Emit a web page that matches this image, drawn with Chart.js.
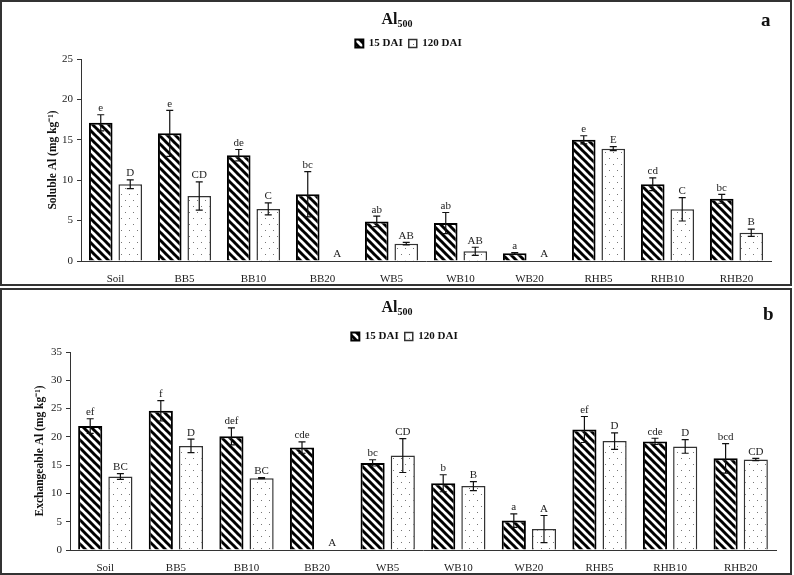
<!DOCTYPE html>
<html>
<head>
<meta charset="utf-8">
<script src="https://cdn.jsdelivr.net/npm/chart.js@4"></script>
<style>
  html, body { margin: 0; padding: 0; background: #fff; }
  body { width: 794px; height: 575px; position: relative; overflow: hidden; font-family: 'Liberation Serif', serif; }
  .wrap { position: absolute; left: 0; width: 794px; }
  .frame { position: absolute; left: 0; width: 792px; border: 2px solid #333; box-sizing: border-box; pointer-events: none; }
  .ttl { position: absolute; left: 0; width: 794px; text-align: center; font-weight: bold; font-size: 16px; color: #111; }
  .ttl sub { font-size: 10px; vertical-align: -3px; }
  .tag { position: absolute; font-weight: bold; font-size: 19px; color: #111; }
</style>
</head>
<body>
<div class="wrap" style="top:0;height:286px"><canvas id="solubleChart"></canvas></div>
<div class="wrap" style="top:288px;height:287px"><canvas id="exchChart"></canvas></div>
<div class="frame" style="top:0;height:286px"></div>
<div class="frame" style="top:288px;height:287px"></div>
<div class="ttl" style="top:10px">Al<sub>500</sub></div>
<div class="ttl" style="top:298px">Al<sub>500</sub></div>
<div class="tag" style="left:761px;top:9px">a</div>
<div class="tag" style="left:763px;top:303px">b</div>

<script>
// ---------- data ----------
const categories = ['Soil', 'BB5', 'BB10', 'BB20', 'WB5', 'WB10', 'WB20', 'RHB5', 'RHB10', 'RHB20'];
const seriesLabels = ['15 DAI', '120 DAI'];

// panel a - soluble Al
const soluble15 = [17.1, 15.8, 13.1, 8.25, 4.9, 4.7, 0.95, 15.0, 9.5, 7.7];
const soluble15Err = [1.0, 2.85, 0.7, 2.8, 0.65, 1.3, 0.1, 0.5, 0.8, 0.55];
const soluble15Letters = ['e', 'e', 'de', 'bc', 'ab', 'ab', 'a', 'e', 'cd', 'bc'];
const soluble120 = [9.5, 8.05, 6.45, 0, 2.15, 1.2, 0, 13.9, 6.4, 3.5];
const soluble120Err = [0.55, 1.75, 0.75, 0, 0.15, 0.5, 0, 0.25, 1.45, 0.45];
const soluble120Letters = ['D', 'CD', 'C', 'A', 'AB', 'AB', 'A', 'E', 'C', 'B'];
const solubleTicks = [0, 5, 10, 15, 20, 25];

// panel b - exchangeable Al
const exch15 = [21.9, 24.6, 20.1, 18.1, 15.4, 11.8, 5.2, 21.3, 19.2, 16.2];
const exch15Err = [1.3, 1.8, 1.5, 1.0, 0.55, 1.5, 1.2, 2.3, 0.55, 2.6];
const exch15Letters = ['ef', 'f', 'def', 'cde', 'bc', 'b', 'a', 'ef', 'cde', 'bcd'];
const exch120 = [13.0, 18.4, 12.7, 0, 16.7, 11.3, 3.7, 19.25, 18.3, 16.0];
const exch120Err = [0.5, 1.2, 0.1, 0, 3.0, 0.8, 2.4, 1.45, 1.2, 0.2];
const exch120Letters = ['BC', 'D', 'BC', 'A', 'CD', 'B', 'A', 'D', 'D', 'CD'];
const exchTicks = [0, 5, 10, 15, 20, 25, 30, 35];

// ---------- fills ----------
function stripeFill() {
  const p = 8;
  const c = document.createElement('canvas');
  c.width = p; c.height = p;
  const g = c.getContext('2d');
  g.fillStyle = '#fff';
  g.fillRect(0, 0, p, p);
  g.strokeStyle = '#000';
  g.lineWidth = 3;
  for (let k = -1; k <= 1; k++) {
    g.beginPath();
    g.moveTo(k * p - 1, -1);
    g.lineTo(k * p + p + 1, p + 1);
    g.stroke();
  }
  return g.createPattern(c, 'repeat');
}

function dotFill() {
  const c = document.createElement('canvas');
  c.width = 8; c.height = 12;
  const g = c.getContext('2d');
  g.fillStyle = '#fff';
  g.fillRect(0, 0, 8, 12);
  g.fillStyle = '#777';
  g.fillRect(1, 2, 1, 1);
  g.fillRect(5, 8, 1, 1);
  return g.createPattern(c, 'repeat');
}

// ---------- error bars + letters ----------
const errorBars = {
  id: 'errorBars',
  afterDatasetsDraw(chart) {
    const ctx = chart.ctx;
    const y = chart.scales.y;
    ctx.save();
    chart.data.datasets.forEach((ds, di) => {
      const meta = chart.getDatasetMeta(di);
      meta.data.forEach((bar, i) => {
        const v = ds.data[i];
        const e = ds.errors[i];
        let top = y.getPixelForValue(v);
        if (e > 0) {
          const hi = y.getPixelForValue(v + e);
          const lo = y.getPixelForValue(v - e);
          ctx.strokeStyle = '#111';
          ctx.lineWidth = 1.2;
          ctx.beginPath();
          ctx.moveTo(bar.x, hi); ctx.lineTo(bar.x, lo);
          ctx.moveTo(bar.x - 3.5, hi); ctx.lineTo(bar.x + 3.5, hi);
          ctx.moveTo(bar.x - 3.5, lo); ctx.lineTo(bar.x + 3.5, lo);
          ctx.stroke();
          top = hi;
        }
        ctx.fillStyle = '#222';
        ctx.font = '11px "Liberation Serif"';
        ctx.textAlign = 'center';
        ctx.textBaseline = 'bottom';
        ctx.fillText(ds.letters[i], bar.x, top - 1);
      });
    });
    ctx.restore();
  }
};

function makeChart(id, cfg) {
  const s15 = {
    label: seriesLabels[0],
    data: cfg.a,
    errors: cfg.aErr,
    letters: cfg.aLetters,
    backgroundColor: stripeFill(),
    borderColor: '#000',
    borderWidth: 2,
    barPercentage: 0.8,
    categoryPercentage: 0.855,
  };
  const s120 = {
    label: seriesLabels[1],
    data: cfg.b,
    errors: cfg.bErr,
    letters: cfg.bLetters,
    backgroundColor: dotFill(),
    borderColor: '#333',
    borderWidth: 1.5,
    barPercentage: 0.8,
    categoryPercentage: 0.855,
  };
  return new Chart(document.getElementById(id), {
    type: 'bar',
    data: { labels: categories, datasets: [s15, s120] },
    options: {
      responsive: false,
      animation: false,
      events: [],
      layout: { padding: { left: cfg.padLeft, right: cfg.padRight, top: cfg.padTop, bottom: 0 } },
      plugins: {
        title: { display: false },
        tooltip: { enabled: false },
        legend: {
          display: true,
          position: 'top',
          labels: {
            boxWidth: 8,
            boxHeight: 8,
            padding: 6,
            color: '#111',
            font: { family: 'Liberation Serif', size: 11, weight: 'bold' },
          },
        },
      },
      scales: {
        x: {
          grid: { display: false },
          border: { display: true, color: '#333', width: 1 },
          ticks: { color: '#222', padding: 4, font: { family: 'Liberation Serif', size: 11 } },
          afterFit: (s) => { s.height = 25; },
        },
        y: {
          min: 0,
          max: cfg.ticks[cfg.ticks.length - 1],
          afterBuildTicks: (s) => { s.ticks = cfg.ticks.map((v) => ({ value: v })); },
          grid: { drawOnChartArea: false, drawTicks: true, tickLength: 4, color: '#333' },
          border: { display: true, color: '#333', width: 1 },
          ticks: { color: '#222', padding: 4, font: { family: 'Liberation Serif', size: 11 } },
          title: {
            display: true,
            text: cfg.yTitle,
            color: '#111',
            padding: { top: 0, bottom: 0 },
            font: { family: 'Liberation Serif', size: 11.5, weight: 'bold' },
          },
          afterFit: (s) => { s.width = cfg.yWidth; },
        },
      },
    },
    plugins: [errorBars],
  });
}

const c1 = document.getElementById('solubleChart');
c1.width = 794; c1.height = 286;
const c2 = document.getElementById('exchChart');
c2.width = 794; c2.height = 287;

makeChart('solubleChart', {
  a: soluble15, aErr: soluble15Err, aLetters: soluble15Letters,
  b: soluble120, bErr: soluble120Err, bLetters: soluble120Letters,
  ticks: solubleTicks,
  yTitle: 'Soluble Al (mg kg⁻¹)',
  padLeft: 46, padRight: 23, padTop: 32, yWidth: 35,
});

makeChart('exchChart', {
  a: exch15, aErr: exch15Err, aLetters: exch15Letters,
  b: exch120, bErr: exch120Err, bLetters: exch120Letters,
  ticks: exchTicks,
  yTitle: 'Exchangeable Al (mg kg⁻¹)',
  padLeft: 33, padRight: 18, padTop: 37, yWidth: 37,
});
</script>
</body>
</html>
